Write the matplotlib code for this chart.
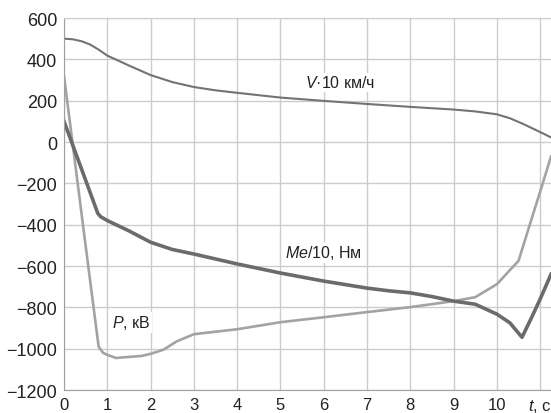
import matplotlib
matplotlib.use("Agg")
import matplotlib.pyplot as plt
import numpy as np

plt.rcParams['font.family'] = ['Liberation Sans', 'DejaVu Sans']
plt.rcParams['mathtext.fontset'] = 'custom'
plt.rcParams['mathtext.it'] = 'Liberation Sans:italic'
plt.rcParams['mathtext.rm'] = 'Liberation Sans'

# скорость V*10, км/ч
t_v = [0, 0.2, 0.4, 0.6, 0.8, 1, 1.5, 2, 2.5, 3, 3.5, 4, 5, 6, 7, 8, 9, 9.5, 10, 10.3, 10.6, 10.9, 11.1, 11.25]
v = [500, 497, 488, 472, 447, 418, 370, 324, 290, 266, 250, 238, 215, 199, 184, 170, 157, 148, 134, 115, 88, 58, 38, 22]

# момент Me/10, Нм
t_me = [0, 0.2, 0.4, 0.6, 0.78, 0.85, 1, 1.5, 2, 2.5, 3, 4, 5, 6, 7, 7.5, 8, 8.5, 9, 9.5, 10, 10.3, 10.58, 10.8, 11, 11.25]
me = [100, -14, -128, -242, -345, -362, -380, -430, -485, -520, -542, -590, -634, -673, -707, -720, -730, -748, -770, -785, -833, -875, -945, -850, -760, -640]

# мощность P, кВт
t_p = [0, 0.48, 0.8, 0.9, 1.0, 1.2, 1.5, 1.8, 2.0, 2.3, 2.6, 3, 4, 5, 6, 7, 8, 9, 9.5, 10, 10.3, 10.5, 10.8, 11, 11.25]
p = [320, -470, -990, -1020, -1030, -1045, -1040, -1035, -1025, -1005, -965, -930, -906, -872, -848, -823, -799, -770, -751, -688, -620, -575, -373, -240, -70]

xticks = list(range(12))
xlabels = [str(i) for i in range(11)] + ['$t$, с']
yticks = list(range(-1200, 601, 200))
ylabels = [str(y).replace('-', '\u2212') for y in yticks]

fig = plt.figure(figsize=(5.51, 4.14), dpi=100)
ax = fig.add_axes([64/551, 1-391/414, 1-64/551, (391-19)/414])

ax.plot(t_p, p, color='#a3a3a3', lw=1.9)
ax.plot(t_me, me, color='#6b6b6b', lw=2.6)
ax.plot(t_v, v, color='#737373', lw=1.5)

ax.set_xlim(0, 11.25)
ax.set_ylim(-1200, 600)
ax.set_xticks(xticks)
ax.set_xticklabels(xlabels)
ax.set_yticks(yticks)
ax.set_yticklabels(ylabels)
ax.tick_params(length=0, labelsize=13, colors='#222222')
ax.tick_params(axis='y', pad=5)
ax.tick_params(axis='x', pad=5, labelsize=12)
ax.grid(color='#cccccc', lw=1.0)
ax.set_axisbelow(True)
for s in ['left', 'bottom']:
    ax.spines[s].set_color('#a0a0a0')
ax.spines['top'].set_color('#cccccc')
ax.spines['right'].set_visible(False)

box = dict(facecolor='white', edgecolor='none', pad=1)
ax.text(5.57, 290, '$V$·10 км/ч', fontsize=11.5, va='center', color='#222222', bbox=box)
ax.text(5.1, -533, '$Me$/10, Нм', fontsize=11.5, va='center', color='#222222', bbox=box)
ax.text(1.11, -872, '$P$, кВ', fontsize=11.5, va='center', color='#222222', bbox=box)

fig.savefig('out.png', dpi=100)
